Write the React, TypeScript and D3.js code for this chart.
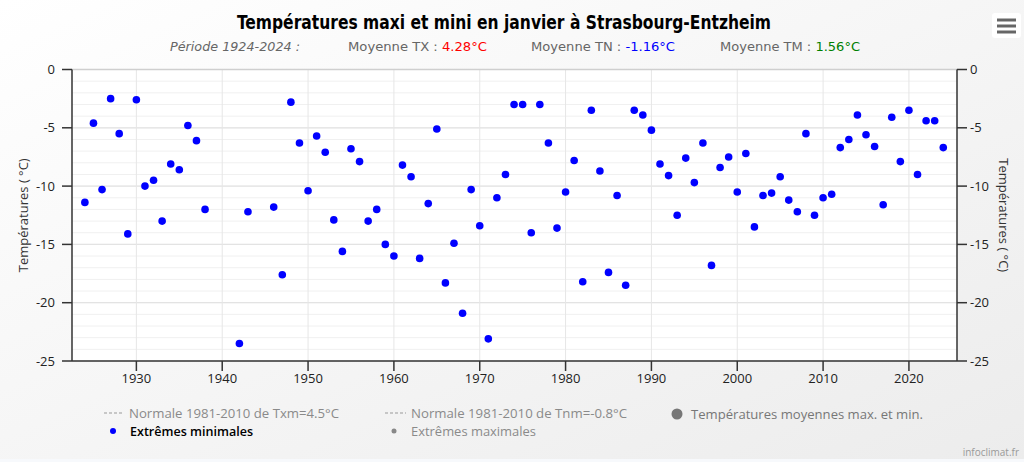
import React from "react";
import * as d3 from "d3";

const years: number[] = [
  1924, 1925, 1926, 1927, 1928, 1929, 1930, 1931, 1932, 1933, 1934, 1935, 1936, 1937, 1938,
  1942, 1943, 1946, 1947, 1948, 1949, 1950, 1951, 1952, 1953, 1954, 1955, 1956, 1957, 1958, 1959,
  1960, 1961, 1962, 1963, 1964, 1965, 1966, 1967, 1968, 1969, 1970, 1971, 1972, 1973, 1974, 1975,
  1976, 1977, 1978, 1979, 1980, 1981, 1982, 1983, 1984, 1985, 1986, 1987, 1988, 1989, 1990, 1991,
  1992, 1993, 1994, 1995, 1996, 1997, 1998, 1999, 2000, 2001, 2002, 2003, 2004, 2005, 2006, 2007,
  2008, 2009, 2010, 2011, 2012, 2013, 2014, 2015, 2016, 2017, 2018, 2019, 2020, 2021, 2022, 2023, 2024,
];

const minExtremes: number[] = [
  -11.4, -4.6, -10.3, -2.5, -5.5, -14.1, -2.6, -10.0, -9.5, -13.0, -8.1, -8.6, -4.8, -6.1, -12.0,
  -23.5, -12.2, -11.8, -17.6, -2.8, -6.3, -10.4, -5.7, -7.1, -12.9, -15.6, -6.8, -7.9, -13.0, -12.0, -15.0,
  -16.0, -8.2, -9.2, -16.2, -11.5, -5.1, -18.3, -14.9, -20.9, -10.3, -13.4, -23.1, -11.0, -9.0, -3.0, -3.0,
  -14.0, -3.0, -6.3, -13.6, -10.5, -7.8, -18.2, -3.5, -8.7, -17.4, -10.8, -18.5, -3.5, -3.9, -5.2, -8.1,
  -9.1, -12.5, -7.6, -9.7, -6.3, -16.8, -8.4, -7.5, -10.5, -7.2, -13.5, -10.8, -10.6, -9.2, -11.2, -12.2,
  -5.5, -12.5, -11.0, -10.7, -6.7, -6.0, -3.9, -5.6, -6.6, -11.6, -4.1, -7.9, -3.5, -9.0, -4.4, -4.4, -6.7,
];

const xTicks: number[] = [1930, 1940, 1950, 1960, 1970, 1980, 1990, 2000, 2010, 2020];
const yTicks: number[] = [0, -5, -10, -15, -20, -25];
const yMinor: number[] = d3.range(-24, 0, 1);

const title = "Températures maxi et mini en janvier à Strasbourg-Entzheim";
const periodLabel = "Période 1924-2024 :";
const averages = [
  { label: "Moyenne TX : ", value: "4.28°C", color: "#ff0000" },
  { label: "Moyenne TN : ", value: "-1.16°C", color: "#0000ff" },
  { label: "Moyenne TM : ", value: "1.56°C", color: "#008000" },
];
const legendNormTx = "Normale 1981-2010 de Txm=4.5°C";
const legendNormTn = "Normale 1981-2010 de Tnm=-0.8°C";
const legendMeans = "Températures moyennes max. et min.";
const legendMin = "Extrêmes minimales";
const legendMax = "Extrêmes maximales";
const yTitle = "Températures ( °C)";

const W = 1024;
const H = 462;
const left = 72;
const right = 957;
const top = 69.5;
const bottom = 361;

const FONT = "'Open Sans', 'DejaVu Sans', sans-serif";
const CFONT = "'DejaVu Sans Condensed', 'Liberation Sans Narrow', 'Open Sans', sans-serif";

export default function App() {
  const x = d3.scaleLinear().domain([1922.5, 2025.6]).range([left, right]);
  const y = d3.scaleLinear().domain([-25, 0]).range([bottom, top]);

  return (
    <svg
      width={W}
      height={H}
      style={{ position: "absolute", left: 0, top: 0, display: "block" }}
      fontFamily={FONT}
    >
      <defs>
        <linearGradient id="bg" x1="0" y1="0" x2="1" y2="1">
          <stop offset="0" stopColor="#ffffff" />
          <stop offset="1" stopColor="#ececec" />
        </linearGradient>
      </defs>
      <rect x={0} y={0} width={W} height={H} fill="url(#bg)" />
      <rect x={0} y={H - 3} width={W} height={3} fill="#f7f9fc" />

      {/* plot background */}
      <rect x={left} y={top} width={right - left} height={bottom - top} fill="#ffffff" />

      {/* minor grid */}
      {yMinor.map((v) => (
        <line key={"m" + v} x1={left} x2={right} y1={y(v)} y2={y(v)} stroke="#f0f0f0" strokeWidth={1} />
      ))}
      {/* major grid */}
      {yTicks.map((v) => (
        <line key={"g" + v} x1={left} x2={right} y1={y(v)} y2={y(v)} stroke="#e3e3e3" strokeWidth={1.2} />
      ))}
      {xTicks.map((t) => (
        <line key={"vx" + t} x1={x(t)} x2={x(t)} y1={top} y2={bottom} stroke="#e6e6e6" strokeWidth={1} />
      ))}
      <line x1={left} x2={right} y1={top} y2={top} stroke="#cfcfcf" strokeWidth={1.5} />

      {/* axes */}
      <line x1={left} x2={left} y1={top} y2={bottom} stroke="#333" strokeWidth={1.5} />
      <line x1={right} x2={right} y1={top} y2={bottom} stroke="#333" strokeWidth={1.5} />
      <line x1={left} x2={right} y1={bottom} y2={bottom} stroke="#333" strokeWidth={1.5} />

      {yTicks.map((v) => (
        <g key={"yt" + v}>
          <line x1={left - 10} x2={left} y1={y(v)} y2={y(v)} stroke="#333" strokeWidth={1.5} />
          <line x1={right} x2={right + 10} y1={y(v)} y2={y(v)} stroke="#333" strokeWidth={1.5} />
          <text x={55} y={y(v)} dy="0.35em" textAnchor="end" fontSize={13} fill="#222">
            {v}
          </text>
          <text x={970} y={y(v)} dy="0.35em" textAnchor="start" fontSize={13} fill="#222">
            {v}
          </text>
        </g>
      ))}
      {xTicks.map((t) => (
        <g key={"xt" + t}>
          <line x1={x(t)} x2={x(t)} y1={bottom} y2={bottom + 10} stroke="#333" strokeWidth={1.5} />
          <text x={x(t)} y={bottom + 17} dy="0.35em" textAnchor="middle" fontSize={13} fill="#222">
            {t}
          </text>
        </g>
      ))}

      <text
        transform={`translate(23,${(top + bottom) / 2}) rotate(-90)`}
        textAnchor="middle"
        dy="0.35em"
        fontSize={13}
        fill="#333"
      >
        {yTitle}
      </text>
      <text
        transform={`translate(1004,${(top + bottom) / 2}) rotate(90)`}
        textAnchor="middle"
        dy="0.35em"
        fontSize={13}
        fill="#333"
      >
        {yTitle}
      </text>

      {/* points */}
      {years.map((yr, i) => (
        <circle key={yr} cx={x(yr)} cy={y(minExtremes[i])} r={3.8} fill="#0000ff" />
      ))}

      {/* title */}
      <text
        x={504}
        y={29}
        textAnchor="middle"
        fontFamily={CFONT}
        fontWeight="bold"
        fontSize={20}
        fill="#000"
        textLength={534}
        lengthAdjust="spacingAndGlyphs"
      >
        {title}
      </text>

      {/* subtitle */}
      <text x={170} y={51} fontFamily={CFONT} fontStyle="italic" fontSize={13} fill="#666"
        textLength={130} lengthAdjust="spacingAndGlyphs">
        {periodLabel}
      </text>
      {averages.map((a, i) => {
        const xs = [348, 531, 720][i];
        const ws = [139, 144, 140][i];
        return (
          <text key={a.label} x={xs} y={51} fontFamily={CFONT} fontSize={13}
            textLength={ws} lengthAdjust="spacingAndGlyphs">
            <tspan fill="#666">{a.label}</tspan>
            <tspan fill={a.color}>{a.value}</tspan>
          </text>
        );
      })}

      {/* menu button */}
      <rect x={992} y={13} width={29} height={25} rx={3} fill="#ffffff" />
      {[20, 26, 32].map((ly) => (
        <line key={ly} x1={997} x2={1016} y1={ly} y2={ly} stroke="#666" strokeWidth={3} />
      ))}

      {/* legend */}
      <g fontSize={13}>
        <line x1={104} x2={123} y1={413} y2={413} stroke="#999" strokeWidth={1} strokeDasharray="3,2" />
        <text x={129} y={413} dy="0.35em" fill="#8a8a8a" textLength={210} lengthAdjust="spacingAndGlyphs">
          {legendNormTx}
        </text>
        <line x1={385} x2={406} y1={413} y2={413} stroke="#999" strokeWidth={1} strokeDasharray="3,2" />
        <text x={411} y={413} dy="0.35em" fill="#8a8a8a" textLength={216} lengthAdjust="spacingAndGlyphs">
          {legendNormTn}
        </text>
        <circle cx={677} cy={414} r={5.5} fill="#777" />
        <text x={691} y={414} dy="0.35em" fill="#777" textLength={232} lengthAdjust="spacingAndGlyphs">
          {legendMeans}
        </text>
        <circle cx={113} cy={431} r={3} fill="#0000ff" />
        <text x={130} y={431} dy="0.35em" fill="#000" fontWeight={600} textLength={123} lengthAdjust="spacingAndGlyphs">
          {legendMin}
        </text>
        <circle cx={394} cy={431} r={2.5} fill="#888" />
        <text x={411} y={431} dy="0.35em" fill="#8a8a8a" textLength={125} lengthAdjust="spacingAndGlyphs">
          {legendMax}
        </text>
      </g>
      <text x={1019} y={452} dy="0.35em" textAnchor="end" fontSize={10} fill="#999">
        infoclimat.fr
      </text>
    </svg>
  );
}
